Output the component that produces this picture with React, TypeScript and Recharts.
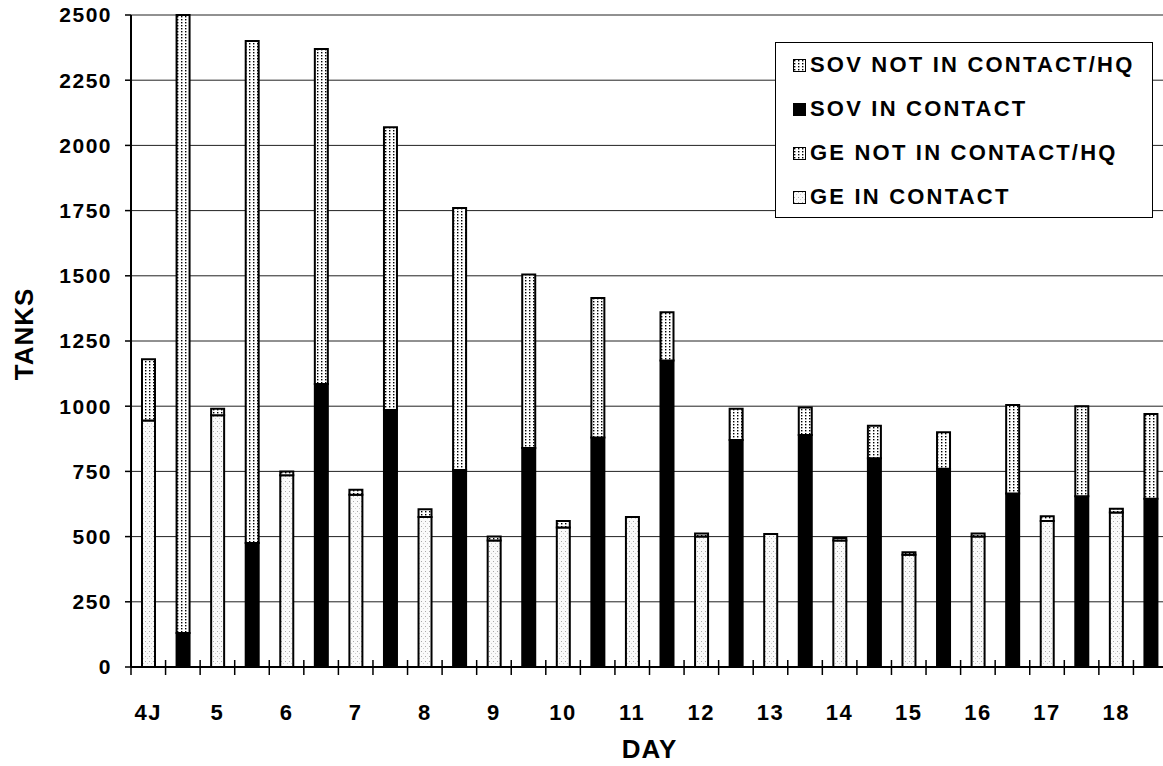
import { Bar, BarChart, CartesianGrid, Label, Legend, XAxis, YAxis } from "recharts";

const days = ["4J", "5", "6", "7", "8", "9", "10", "11", "12", "13", "14", "15", "16", "17", "18"];
const geInContact = [945, 965, 735, 660, 575, 485, 535, 575, 500, 510, 485, 430, 500, 560, 592];
const geNotInContact = [235, 25, 15, 20, 30, 15, 25, 0, 12, 0, 10, 10, 12, 18, 15];
const sovInContact = [130, 475, 1085, 985, 755, 840, 880, 1175, 870, 890, 800, 760, 665, 655, 645];
const sovNotInContact = [2370, 1925, 1285, 1085, 1005, 665, 535, 185, 120, 105, 125, 140, 340, 345, 325];
const yTicks = [0, 250, 500, 750, 1000, 1250, 1500, 1750, 2000, 2250, 2500];

// one slot per bar: GE on the left, SOV on the right of each day
const rows = days.flatMap((day, i) => [
  { slot: day, geIn: geInContact[i], geNot: geNotInContact[i] },
  { slot: day + " ", sovIn: sovInContact[i], sovNot: sovNotInContact[i] },
]);

const legendItems = [
  { label: "SOV NOT IN CONTACT/HQ", fill: "url(#dots)" },
  { label: "SOV IN CONTACT", fill: "#000" },
  { label: "GE NOT IN CONTACT/HQ", fill: "url(#dots)" },
  { label: "GE IN CONTACT", fill: "url(#light)" },
];

const FONT = '"Liberation Sans", Arial, sans-serif';
const CHART_W = 1170;
const PLOT_LEFT = 131;
const PLOT_RIGHT = 1168;
const SLOT = (PLOT_RIGHT - PLOT_LEFT) / rows.length;

function SlotTick(props: any) {
  const { x, y, index } = props;
  const last = index === rows.length - 1;
  return (
    <g>
      <line x1={x - SLOT / 2} x2={x - SLOT / 2} y1={y - 7} y2={y + 8} stroke="#000" strokeWidth={1.5} />
      {last && <line x1={x + SLOT / 2} x2={x + SLOT / 2} y1={y - 7} y2={y + 8} stroke="#000" strokeWidth={1.5} />}
      {index % 2 === 0 && (
        <text x={x} y={y + 53} textAnchor="middle" fontFamily={FONT} fontWeight={700} fontSize={22} letterSpacing={1.5} fill="#000">
          {props.payload.value}
        </text>
      )}
    </g>
  );
}

function ChartLegend() {
  return (
    <div
      style={{
        border: "1.5px solid #000",
        background: "#fff",
        boxSizing: "border-box",
        width: 378,
        height: 176,
        padding: "0 0 0 17px",
        fontFamily: FONT,
        fontWeight: 700,
        fontSize: 22,
        letterSpacing: 2.2,
      }}
    >
      {legendItems.map((item) => (
        <div key={item.label} style={{ height: 44, display: "flex", alignItems: "center" }}>
          <svg width={13} height={13} style={{ marginRight: 4 }}>
            <rect x={0.5} y={0.5} width={12} height={12} fill={item.fill} stroke="#000" strokeWidth={1} />
          </svg>
          <span>{item.label}</span>
        </div>
      ))}
    </div>
  );
}

export default function App() {
  return (
    <div style={{ position: "absolute", left: 0, top: 0, width: 1163, height: 766, overflow: "hidden", background: "#fff" }}>
      <svg width={0} height={0} style={{ position: "absolute" }}>
        <defs>
          <pattern id="dots" patternUnits="userSpaceOnUse" width={4} height={3}>
            <rect width={4} height={3} fill="#fff" />
            <rect x={1} y={1} width={1.4} height={1.4} fill="#000" />
          </pattern>
          <pattern id="light" patternUnits="userSpaceOnUse" width={4} height={5}>
            <rect width={4} height={5} fill="#fafafa" />
            <rect x={1} y={1} width={1} height={1} fill="#aaa" />
            <rect x={3} y={3} width={1} height={1} fill="#d0d0d0" />
          </pattern>
        </defs>
      </svg>
      <BarChart width={CHART_W} height={766} data={rows} margin={{ top: 15, right: CHART_W - PLOT_RIGHT, bottom: 0, left: 0 }} barSize={13}>
        <CartesianGrid vertical={false} stroke="#222" strokeWidth={1} />
        <XAxis
          dataKey="slot"
          height={99}
          interval={0}
          tickSize={0}
          tickMargin={0}
          tickLine={false}
          axisLine={{ stroke: "#000", strokeWidth: 2 }}
          tick={<SlotTick />}
        >
          <Label
            content={(p: any) => {
              const vb = p.viewBox || {};
              return (
                <text x={(PLOT_LEFT + PLOT_RIGHT) / 2} y={(vb.y || 667) + 91} textAnchor="middle" fontFamily={FONT} fontWeight={700} fontSize={26} letterSpacing={1} fill="#000">
                  DAY
                </text>
              );
            }}
          />
        </XAxis>
        <YAxis
          width={PLOT_LEFT}
          domain={[0, 2500]}
          ticks={yTicks}
          interval={0}
          tickSize={6}
          tickMargin={13}
          axisLine={{ stroke: "#000", strokeWidth: 2 }}
          tickLine={{ stroke: "#000", strokeWidth: 1.5 }}
          tick={{ fill: "#000", fontFamily: FONT, fontWeight: 700, fontSize: 21, letterSpacing: 1.5 }}
        >
          <Label
            content={() => (
              <text x={33} y={334} transform="rotate(-90 33 334)" textAnchor="middle" fontFamily={FONT} fontWeight={700} fontSize={26} letterSpacing={1} fill="#000">
                TANKS
              </text>
            )}
          />
        </YAxis>
        <Legend
          layout="horizontal"
          verticalAlign="middle"
          align="center"
          wrapperStyle={{ top: 42, left: 775, width: 378 }}
          content={<ChartLegend />}
        />
        <Bar dataKey="geIn" stackId="a" fill="url(#light)" stroke="#000" strokeWidth={2} isAnimationActive={false} />
        <Bar dataKey="geNot" stackId="a" fill="url(#dots)" stroke="#000" strokeWidth={2} isAnimationActive={false} />
        <Bar dataKey="sovIn" stackId="a" fill="#000" stroke="#000" strokeWidth={2} isAnimationActive={false} />
        <Bar dataKey="sovNot" stackId="a" fill="url(#dots)" stroke="#000" strokeWidth={2} isAnimationActive={false} />
      </BarChart>
    </div>
  );
}
